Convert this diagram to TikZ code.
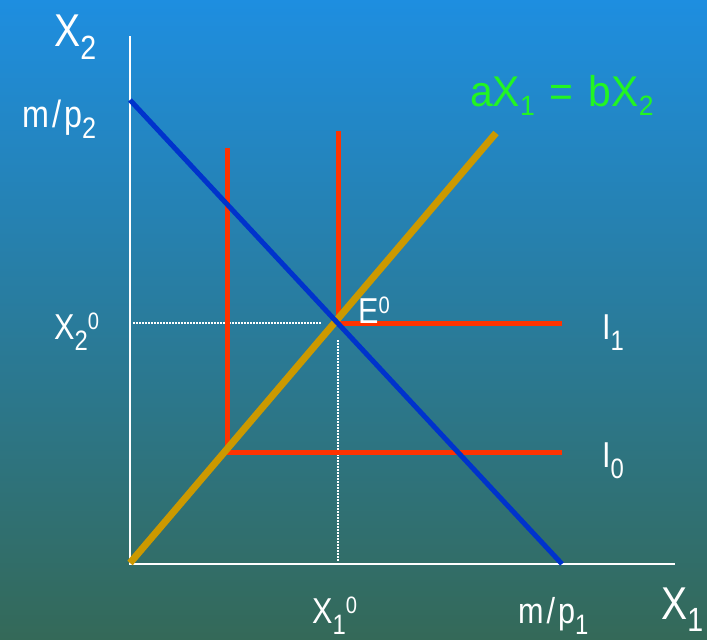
\documentclass[tikz,border=0pt]{standalone}
\usepackage{fontspec}
\newfontfamily\lf{Liberation Sans}[FakeStretch=0.85]
\newfontfamily\lfw{Liberation Sans}[FakeStretch=0.95]
\newcommand\dn[2][0.78]{\raisebox{-11pt}{\scalebox{#1}{#2}}}
\newcommand\up[1]{\raisebox{10pt}{\scalebox{0.66}{#1}}}
\newcommand\slsh{\kern3pt/\kern3pt}
\definecolor{bgtop}{RGB}{30,142,224}
\definecolor{bgmid}{RGB}{42,122,165}
\definecolor{bgbot}{RGB}{52,105,88}
\definecolor{budget}{RGB}{0,51,204}
\definecolor{ray}{RGB}{204,153,0}
\definecolor{indiff}{RGB}{255,51,0}
\definecolor{eqgreen}{RGB}{34,245,34}
\tikzset{
  axis/.style={draw=white, line width=2pt},
  guide/.style={draw=white, line width=1.5pt, dash pattern=on 1.5pt off 1.5pt},
  budgetline/.style={draw=budget, line width=5pt},
  rayline/.style={draw=ray, line width=7pt},
  isoquant/.style={draw=indiff, line width=5pt},
  lbl/.style={text=white, inner sep=0pt, anchor=base west, font=\lf\fontsize{36}{40}\selectfont},
  axlbl/.style={text=white, inner sep=0pt, anchor=base west, font=\lf\fontsize{46}{50}\selectfont},
}
\begin{document}
\begin{tikzpicture}[x=1pt,y=-1pt]
\useasboundingbox (0,0) rectangle (707,640);
\shade[top color=bgtop, middle color=bgmid, bottom color=bgbot] (0,0) rectangle (707,640);

% coordinates
\coordinate (O) at (130,564);
\coordinate (ytop) at (130,36);
\coordinate (xend) at (675,564);
\coordinate (B2) at (130,100);
\coordinate (B1) at (562,564);
\coordinate (R0) at (130,563);
\coordinate (R1) at (496,133);
\coordinate (E) at (338,323);
\coordinate (Etop) at (338,131);
\coordinate (I1end) at (562,323);
\coordinate (C0) at (227,452);
\coordinate (C0top) at (227,148);
\coordinate (I0end) at (562,452);
\coordinate (gh0) at (133,323);
\coordinate (gh1) at (322,323);
\coordinate (gv0) at (338,340);
\coordinate (gv1) at (338,562);

% axes
\draw[axis] (ytop) -- (O) -- (xend);
% guides
\draw[guide] (gh0) -- (gh1);
\draw[guide] (gv0) -- (gv1);
% isoquants
\draw[isoquant] (C0top) -- (C0) -- (I0end);
\draw[isoquant] (Etop) -- (E) -- (I1end);
% ray
\draw[rayline] (R0) -- (R1);
% budget
\draw[budgetline] (B2) -- (B1);

% labels
\node[axlbl] (lx2) at (54,46) {X\raisebox{-13pt}{\scalebox{0.73}{2}}};
\node[axlbl] (lx1) at (661,619) {X\raisebox{-12pt}{\scalebox{0.73}{1}}};
\node[lbl, font=\lf\fontsize{38}{42}\selectfont] (lmp2) at (22,127) {m\slsh p\dn{2}};
\node[lbl] (lmp1) at (518,623) {m\slsh p\dn[0.78]{1}};
\node[lbl] (lx20) at (54,339) {X\dn{2}\up{0}};
\node[lbl] (lx10) at (312,623) {X\dn{1}\up{0}};
\node[lbl] (lE) at (358,323) {E\up{0}};
\node[lbl] (lI1) at (602,339) {I\dn{1}};
\node[lbl] (lI0) at (602,467) {I\dn{0}};
\node[lbl, text=eqgreen, font=\lfw\fontsize{43}{48}\selectfont] (leq) at (470,106)
  {aX\raisebox{-9pt}{\scalebox{0.65}{1}}\hspace{0.35em}=\hspace{0.35em}bX\raisebox{-9pt}{\scalebox{0.65}{2}}};
\end{tikzpicture}
\end{document}
